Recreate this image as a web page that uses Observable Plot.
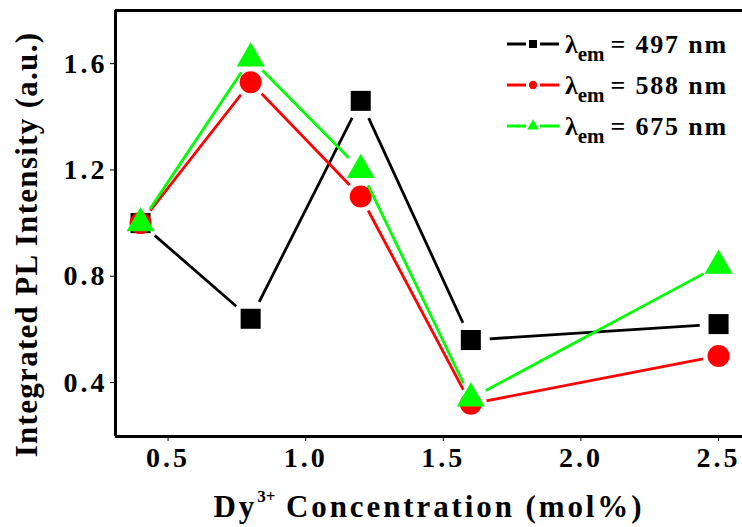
<!DOCTYPE html>
<html><head><meta charset="utf-8">
<script src="https://cdn.jsdelivr.net/npm/d3@7"></script>
<script src="https://cdn.jsdelivr.net/npm/@observablehq/plot@0.6"></script>
<style>
body{margin:0;background:#fff;}
#wrap{position:relative;width:742px;height:527px;overflow:hidden;background:#fff;}
#legend{position:absolute;left:507px;top:24px;font-family:'Liberation Serif',serif;font-weight:bold;font-size:26px;color:#000;}
#legend .row{height:41px;line-height:41px;white-space:nowrap;}
#legend svg{vertical-align:middle;margin-right:6px;position:relative;top:-3px;}
#legend .lam{font-size:26px;}
#legend sub{font-size:21px;position:relative;top:8px;vertical-align:baseline;}
#legend .rest{letter-spacing:1.8px;margin-left:6px;}
</style></head><body><div id="wrap"></div>
<script>
// Data
const concentration = [0.4, 0.8, 1.2, 1.6, 2.5];
const seriesNames = ["497", "588", "675"];
const em497 = [1.00, 0.64, 1.46, 0.56, 0.62];
const em588 = [1.00, 1.53, 1.10, 0.32, 0.50];
const em675 = [1.00, 1.62, 1.20, 0.34, 0.84];
const xTicks = [0.5, 1.0, 1.5, 2.0, 2.5];
const yTicks = [0.4, 0.8, 1.2, 1.6];

const values = [em497, em588, em675];
const colors = ["#000000", "#ff0000", "#00ff00"];
const symbols = ["square", "circle", "triangle"];
const radii = [11.3, 11, 10.4];
const gapRadii = [19, 16, 17];
const xDomain = [0.309, 2.587];
const yDomain = [0.197, 1.8];

const data = [];
seriesNames.forEach((n, i) => concentration.forEach((c, j) => data.push({series: n, x: c, y: values[i][j]})));

const marks = [
  Plot.ruleY([yDomain[0], yDomain[1]], {stroke: "#000", strokeWidth: 3}),
  Plot.ruleX([xDomain[0]], {stroke: "#000", strokeWidth: 3})
];
seriesNames.forEach((n, i) => {
  const d = data.filter(e => e.series === n);
  marks.push(Plot.line(d, {x: "x", y: "y", stroke: colors[i], strokeWidth: 2.8}));
  marks.push(Plot.dot(d, {x: "x", y: "y", symbol: symbols[i], r: radii[i], fill: colors[i], stroke: "none"}));
});

const plot = Plot.plot({
  width: 742, height: 527,
  marginLeft: 115, marginRight: 0, marginTop: 10, marginBottom: 91,
  style: {fontFamily: "'Liberation Serif', serif", fontWeight: "bold", fontSize: "28px", letterSpacing: "3px", background: "transparent", color: "#000"},
  x: {domain: xDomain, ticks: xTicks, tickFormat: d3.format(".1f"), tickSize: 5, tickPadding: 6, label: null},
  y: {domain: yDomain, ticks: yTicks, tickFormat: d3.format(".1f"), tickSize: 5, tickPadding: 3, label: null},
  marks
});
document.getElementById("wrap").appendChild(plot);

// gaps in lines near symbols (Origin style)
const svg = d3.select(plot);
const xs = plot.scale("x"), ys = plot.scale("y");
const defs = svg.append("defs");
svg.selectAll('g[aria-label="line"]').each(function(_, i) {
  const id = "gap" + i;
  const m = defs.append("mask").attr("id", id).attr("maskUnits", "userSpaceOnUse")
    .attr("x", 0).attr("y", 0).attr("width", 742).attr("height", 527);
  m.append("rect").attr("width", 742).attr("height", 527).attr("fill", "#fff");
  concentration.forEach((c, j) => {
    m.append("circle").attr("cx", xs.apply(c)).attr("cy", ys.apply(values[i][j])).attr("r", gapRadii[i]).attr("fill", "#000");
  });
  d3.select(this).attr("mask", `url(#${id})`);
});

// axis titles
svg.append("text")
  .attr("transform", "translate(37,244.5) rotate(-90)")
  .attr("text-anchor", "middle")
  .style("font-size", "31px").style("letter-spacing", "1.3px")
  .text("Integrated PL Intensity (a.u.)");
const xt = svg.append("text")
  .attr("x", 429).attr("y", 517)
  .attr("text-anchor", "middle")
  .style("font-size", "31px").style("letter-spacing", "2.9px");
xt.append("tspan").text("Dy");
xt.append("tspan").attr("dy", -15).style("font-size", "17px").style("letter-spacing", "0px").text("3+");
xt.append("tspan").attr("dy", 15).text(" Concentration (mol%)");

// legend
const legend = d3.select("#wrap").append("div").attr("id", "legend");
seriesNames.forEach((n, i) => {
  const row = legend.append("div").attr("class", "row");
  const s = row.append("svg").attr("width", 52).attr("height", 14);
  s.append("line").attr("x1", 0).attr("x2", 19).attr("y1", 7).attr("y2", 7).attr("stroke", colors[i]).attr("stroke-width", 3);
  s.append("line").attr("x1", 33).attr("x2", 52).attr("y1", 7).attr("y2", 7).attr("stroke", colors[i]).attr("stroke-width", 3);
  const sizes = [64, 55, 60];
  s.append("path").attr("transform", "translate(26,7)")
    .attr("d", d3.symbol(symbols[i] === "square" ? d3.symbolSquare : symbols[i] === "circle" ? d3.symbolCircle : d3.symbolTriangle, sizes[i])())
    .attr("fill", colors[i]);
  row.append("span").attr("class", "lam").html("λ<sub>em</sub>");
  row.append("span").attr("class", "rest").text("= " + n + " nm");
});
</script></body></html>
